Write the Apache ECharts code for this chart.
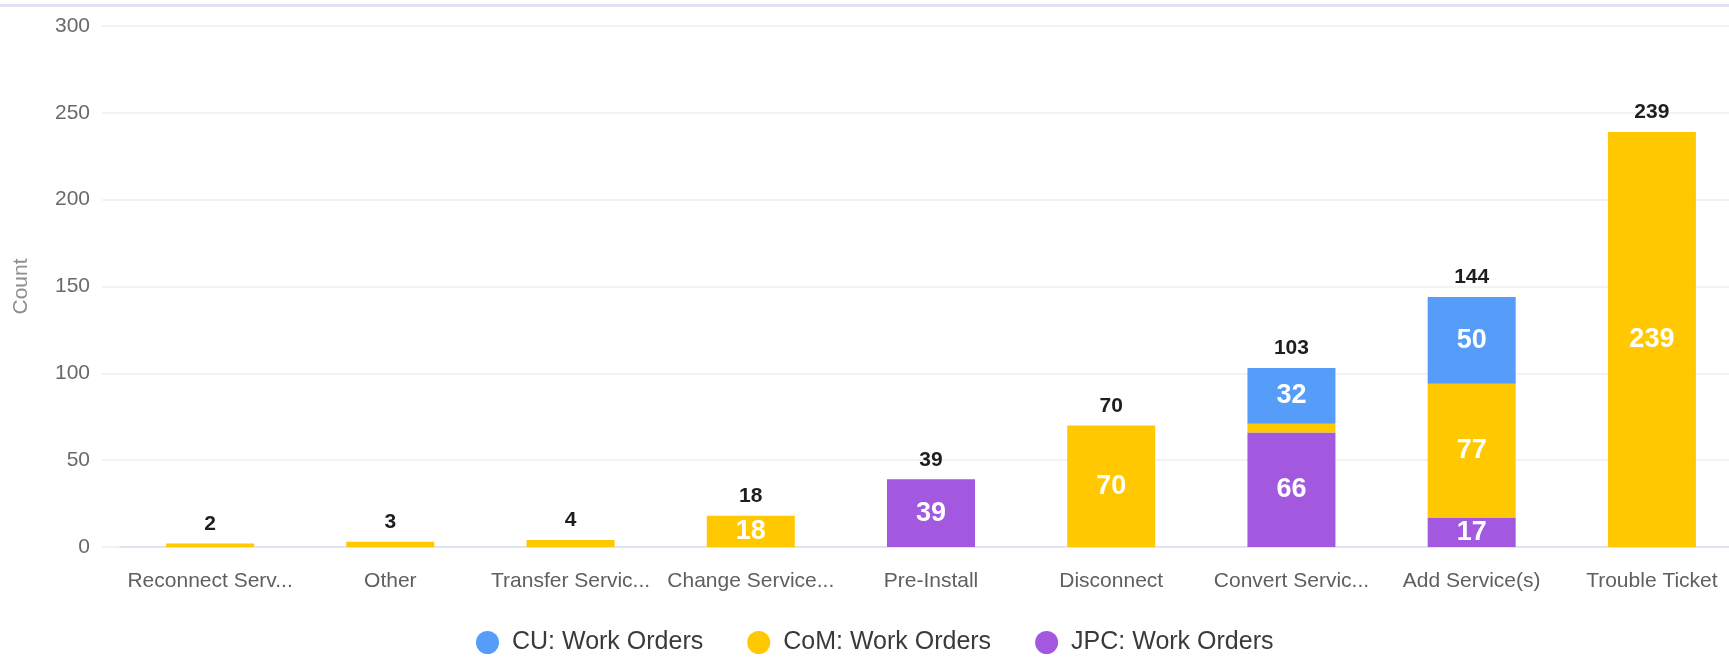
<!DOCTYPE html>
<html>
<head>
<meta charset="utf-8">
<script src="https://cdn.jsdelivr.net/npm/echarts@6/dist/echarts.min.js"></script>
<style>
  html, body { margin: 0; padding: 0; background: #ffffff; }
  #topRule { position: absolute; left: 0; top: 4px; width: 1729px; height: 3px; background: #e1e1f1; }
  #chart { width: 1729px; height: 660px; }
</style>
</head>
<body>
<div id="chart"></div>
<div id="topRule"></div>
<script>
// Work order counts per order type, split by provider
const categories = ['Reconnect Serv...', 'Other', 'Transfer Servic...', 'Change Service...', 'Pre-Install', 'Disconnect', 'Convert Servic...', 'Add Service(s)', 'Trouble Ticket'];
const cuOrders  = [0, 0, 0, 0, 0, 0, 32, 50, 0];
const comOrders = [2, 3, 4, 18, 0, 70, 5, 77, 239];
const jpcOrders = [0, 0, 0, 0, 39, 0, 66, 17, 0];
const yTicks = { min: 0, max: 300, interval: 50 };

const totals = categories.map((_, i) => cuOrders[i] + comOrders[i] + jpcOrders[i]);

const FONT = '"Liberation Sans", Arial, sans-serif';

const insideLabel = {
  show: true,
  position: 'inside',
  color: '#ffffff',
  fontFamily: FONT,
  fontWeight: 'bold',
  fontSize: 27,
  formatter: p => (p.value >= 10 ? String(p.value) : '')
};

function stackSeries(name, data, color) {
  return {
    name: name,
    type: 'bar',
    stack: 'orders',
    xAxisIndex: 1,
    yAxisIndex: 1,
    barWidth: 88,
    itemStyle: { color: color },
    label: insideLabel,
    data: data
  };
}

const chart = echarts.init(document.getElementById('chart'), null, { renderer: 'canvas' });

chart.setOption({
  animation: false,
  textStyle: { fontFamily: FONT },
  legend: {
    data: ['CU: Work Orders', 'CoM: Work Orders', 'JPC: Work Orders'],
    left: 471,
    top: 625,
    icon: 'circle',
    itemWidth: 23,
    itemHeight: 23,
    itemGap: 44,
    textStyle: { fontFamily: FONT, fontSize: 25, color: '#3a3a3a', padding: [0, 0, 0, 8] }
  },
  grid: [
    // gridlines and value labels
    { left: 102, right: 0, top: 26, bottom: 113, outerBoundsMode: 'none' },
    // bars and category labels (the last column runs past the right edge)
    { left: 120, width: 1622, top: 26, bottom: 113, outerBoundsMode: 'none' }
  ],
  xAxis: [
    { type: 'category', gridIndex: 0, data: categories, show: false },
    {
      type: 'category',
      gridIndex: 1,
      data: categories,
      axisLine: { lineStyle: { color: '#e3e3ef', width: 2 } },
      axisTick: { show: false },
      axisLabel: { color: '#5f5f5f', fontFamily: FONT, fontSize: 21, margin: 24, interval: 0 }
    }
  ],
  yAxis: [
    {
      type: 'value',
      gridIndex: 0,
      min: yTicks.min,
      max: yTicks.max,
      interval: yTicks.interval,
      name: 'Count',
      nameLocation: 'middle',
      nameGap: 70,
      nameTextStyle: { color: '#8f8f8f', fontFamily: FONT, fontSize: 21 },
      axisLine: { show: false },
      axisTick: { show: false },
      axisLabel: { color: '#6a6a6a', fontFamily: FONT, fontSize: 21, margin: 12 },
      splitLine: { lineStyle: { color: '#f2f2f5', width: 2 } }
    },
    {
      type: 'value',
      gridIndex: 1,
      min: yTicks.min,
      max: yTicks.max,
      interval: yTicks.interval,
      show: false,
      splitLine: { show: false }
    }
  ],
  series: [
    stackSeries('JPC: Work Orders', jpcOrders, '#a259df'),
    stackSeries('CoM: Work Orders', comOrders, '#ffc800'),
    stackSeries('CU: Work Orders', cuOrders, '#569cf9'),
    {
      name: 'Total',
      type: 'bar',
      stack: 'orders',
      xAxisIndex: 1,
      yAxisIndex: 1,
      barWidth: 88,
      itemStyle: { color: 'rgba(0,0,0,0)' },
      label: {
        show: true,
        position: 'top',
        distance: 9,
        color: '#1e1e1e',
        fontFamily: FONT,
        fontWeight: 'bold',
        fontSize: 21,
        formatter: p => String(totals[p.dataIndex])
      },
      data: totals.map(() => 0)
    }
  ]
});
</script>
</body>
</html>
